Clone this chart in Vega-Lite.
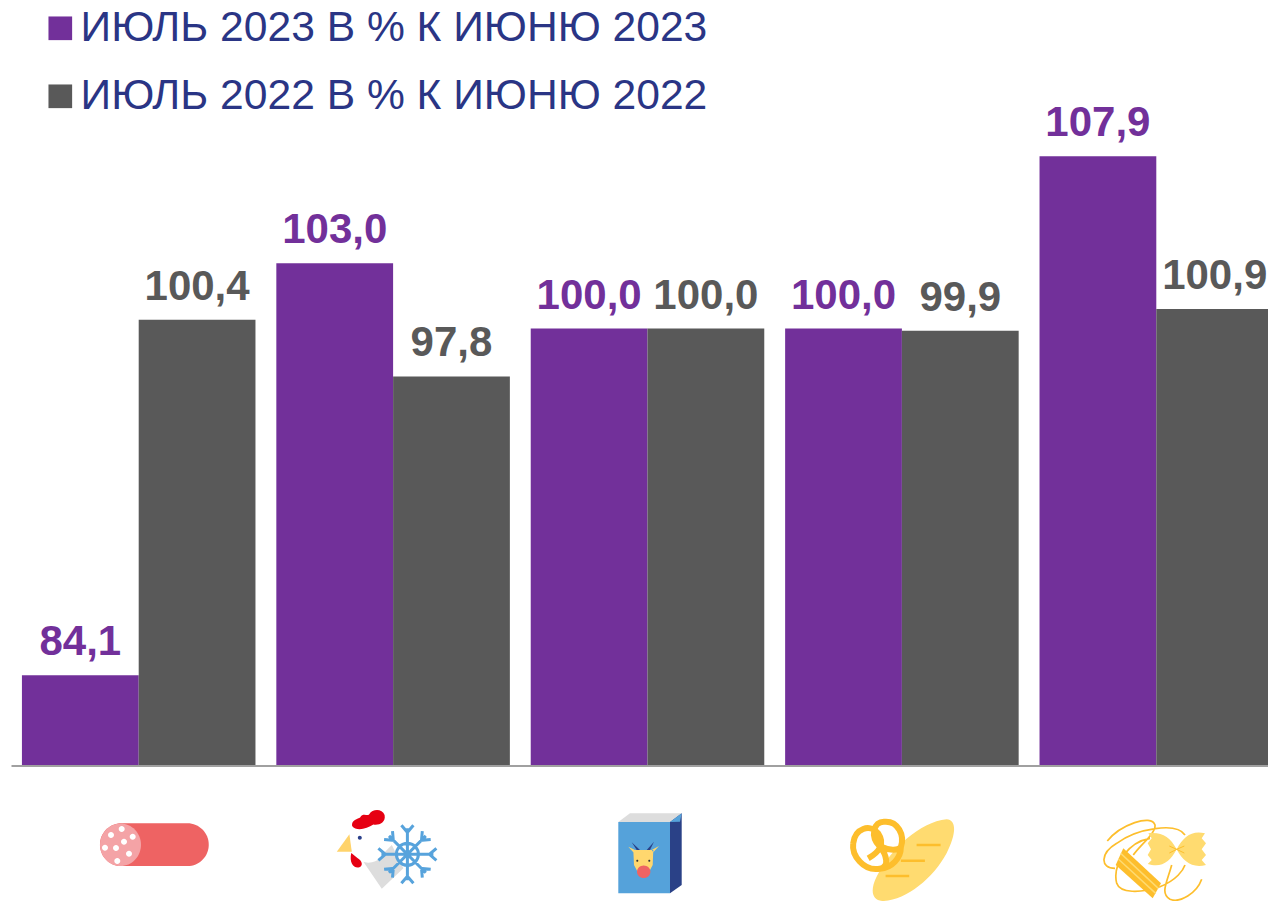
{
"$schema":"https://vega.github.io/schema/vega-lite/v6.json",
"width":1256.5,"height":901,
"autosize":{"type":"none"},
"padding":{"left":11.5,"top":0,"right":0,"bottom":0},
"background":"white",
"view":{"stroke":null},
"config":{"axis":{"domain":false,"ticks":false,"labels":false,"grid":false,"title":null}},
"layer":[
{"data":{"values":[
{"category":"Колбасные изделия","series":"ИЮЛЬ 2023 В % К ИЮНЮ 2023","value":84.1,"label":"84,1"},
{"category":"Колбасные изделия","series":"ИЮЛЬ 2022 В % К ИЮНЮ 2022","value":100.4,"label":"100,4"},
{"category":"Мясо птицы замороженное","series":"ИЮЛЬ 2023 В % К ИЮНЮ 2023","value":103.0,"label":"103,0"},
{"category":"Мясо птицы замороженное","series":"ИЮЛЬ 2022 В % К ИЮНЮ 2022","value":97.8,"label":"97,8"},
{"category":"Молоко","series":"ИЮЛЬ 2023 В % К ИЮНЮ 2023","value":100.0,"label":"100,0"},
{"category":"Молоко","series":"ИЮЛЬ 2022 В % К ИЮНЮ 2022","value":100.0,"label":"100,0"},
{"category":"Хлеб","series":"ИЮЛЬ 2023 В % К ИЮНЮ 2023","value":100.0,"label":"100,0"},
{"category":"Хлеб","series":"ИЮЛЬ 2022 В % К ИЮНЮ 2022","value":99.9,"label":"99,9"},
{"category":"Макароны","series":"ИЮЛЬ 2023 В % К ИЮНЮ 2023","value":107.9,"label":"107,9"},
{"category":"Макароны","series":"ИЮЛЬ 2022 В % К ИЮНЮ 2022","value":100.9,"label":"100,9"}
]},
"encoding":{
"x":{"field":"category","type":"nominal","axis":null,"sort":null,"scale":{"domain":["Колбасные изделия","Мясо птицы замороженное","Молоко","Хлеб","Макароны"],"range":[0,1272],"paddingInner":0.082,"paddingOuter":0.041}},
"xOffset":{"field":"series","type":"nominal","sort":["ИЮЛЬ 2023 В % К ИЮНЮ 2023","ИЮЛЬ 2022 В % К ИЮНЮ 2022"]},
"y":{"field":"value","type":"quantitative","axis":null,"scale":{"domain":[73.74,115.07],"zero":false,"nice":false}},
"color":{"field":"series","type":"nominal","scale":{"domain":["ИЮЛЬ 2023 В % К ИЮНЮ 2023","ИЮЛЬ 2022 В % К ИЮНЮ 2022"],"range":["#72309A","#595959"]},
"legend":{"title":null,"orient":"none","legendX":27.5,"legendY":7,"symbolType":"square","symbolSize":560,"symbolOpacity":1,"labelFont":"Liberation Sans","labelFontSize":42.6,"labelColor":"#2A3585","labelLimit":800,"rowPadding":25,"labelOffset":-1,"padding":0}}
},
"layer":[
{"mark":{"type":"bar"},"encoding":{"y2":{"datum":79.93}}},
{"mark":{"type":"text","font":"Liberation Sans","fontSize":42,"fontWeight":"bold","align":"center","baseline":"alphabetic","dy":-20},"encoding":{"text":{"field":"label","type":"nominal"}}}
]},
{"data":{"values":[{"baseline":79.93}]},"mark":{"type":"rule","color":"#A0A0A0","strokeWidth":2},"encoding":{"y":{"field":"baseline","type":"quantitative"}}},
{"data":{"values":[{"category":"Колбасные изделия"}]},"encoding":{"x":{"field":"category","type":"nominal","axis":null,"sort":null},"y":{"datum":76.078}},"layer":[
{"mark":{"type":"point","filled":true,"opacity":1,"size":4,"color":"#EE6363","shape":"M-17.4,-26.7 H48.7 A21.3,21.3 0 0 1 48.7,16 H-17.4 A21.3,21.3 0 0 1 -17.4,-26.7 Z"}},
{"mark":{"type":"point","filled":true,"opacity":1,"size":4,"color":"#F4A3A6","shape":"M-38.7,-5.3 A20.5,21.3 0 1 1 2.3,-5.3 A20.5,21.3 0 1 1 -38.7,-5.3 Z"}},
{"mark":{"type":"point","filled":true,"opacity":1,"size":4,"color":"#FFFFFF","shape":"M-30.7,-15 a3,3 0 1 0 6,0 a3,3 0 1 0 -6,0 Z M-20,-21 a3,3 0 1 0 6,0 a3,3 0 1 0 -6,0 Z M-9,-13.3 a3,3 0 1 0 6,0 a3,3 0 1 0 -6,0 Z M-17.7,-8.3 a3,3 0 1 0 6,0 a3,3 0 1 0 -6,0 Z M-36.7,-2.3 a3,3 0 1 0 6,0 a3,3 0 1 0 -6,0 Z M-25.7,-2 a3,3 0 1 0 6,0 a3,3 0 1 0 -6,0 Z M-12.7,3.7 a3,3 0 1 0 6,0 a3,3 0 1 0 -6,0 Z M-24.4,11 a3,3 0 1 0 6,0 a3,3 0 1 0 -6,0 Z"}}
]},
{"data":{"values":[{"category":"Мясо птицы замороженное"}]},"encoding":{"x":{"field":"category","type":"nominal","axis":null,"sort":null},"y":{"datum":76.078}},"layer":[
{"mark":{"type":"point","filled":true,"opacity":1,"size":4,"color":"#DDDDDD","shape":"M-29.7,11.7 L-11.3,38.7 L10.3,18.3 L-1.3,-5 L-13,6.7 Z"}},
{"mark":{"type":"point","filled":true,"opacity":1,"size":4,"color":"#FFFFFF","shape":"M-42.4,-5 A17.7,17.7 0 1 1 -7,-5 A17.7,17.7 0 1 1 -42.4,-5 Z"}},
{"mark":{"type":"point","filled":true,"opacity":1,"size":4,"color":"#E60012","shape":"M-41,-24 C-42,-30 -35,-31 -33,-32.5 C-30,-38 -25,-33 -23.7,-36 C-21,-41 -11,-42 -8.5,-35 C-7,-27 -14.7,-24.5 -19.7,-25.5 C-26.3,-21 -37,-18.5 -41,-24 Z M-41.8,3 C-44,12 -40,18 -34.7,17.5 C-29.5,16.5 -30.5,10.7 -35.7,8 Z"}},
{"mark":{"type":"point","filled":true,"opacity":1,"size":4,"color":"#FFD36B","shape":"M-56.3,1.7 L-43.7,-15.7 L-41.3,1.7 Z"}},
{"mark":{"type":"point","filled":true,"opacity":1,"size":4,"color":"#2A3F8A","shape":"M-35.3,-12.3 a2,2 0 1 0 4,0 a2,2 0 1 0 -4,0 Z"}},
{"mark":{"type":"point","filled":false,"opacity":1,"size":4,"stroke":"#57A3DC","strokeWidth":3,"shape":"M14.3,-21.7 L14.3,30.3 M-11.7,4.3 L40.3,4.3 M-4.1,-14.1 L32.7,22.7 M32.7,-14.1 L-4.1,22.7 M25.3,4.3 A11,11 0 1 0 3.3,4.3 A11,11 0 1 0 25.3,4.3 M8.3,-24.7 L14.3,-17.7 L20.3,-24.7 M8.3,33.3 L14.3,26.3 L20.3,33.3 M-14.7,-1.7 L-7.7,4.3 L-14.7,10.3 M43.3,-1.7 L36.3,4.3 L43.3,10.3 M29.2,-19 L28.4,-9.8 L37.6,-10.6 M29.2,27.6 L28.4,18.4 L37.6,19.2 M-0.6,27.6 L0.2,18.4 L-9,19.2 M-0.6,-19 L0.2,-9.8 L-9,-10.6"}}
]},
{"data":{"values":[{"category":"Молоко"}]},"encoding":{"x":{"field":"category","type":"nominal","axis":null,"sort":null},"y":{"datum":76.078}},"layer":[
{"mark":{"type":"point","filled":true,"opacity":1,"size":4,"color":"#DDDDDD","shape":"M-29.2,-28 L-17.5,-36.7 L34.2,-36.7 L22.5,-28 Z"}},
{"mark":{"type":"point","filled":true,"opacity":1,"size":4,"color":"#2A4187","shape":"M22.5,-28 L34.2,-36.7 L34.2,35 L22.5,43.3 Z"}},
{"mark":{"type":"point","filled":true,"opacity":1,"size":4,"color":"#55A2DA","shape":"M-29.2,-28 L22.5,-28 L22.5,43.3 L-29.2,43.3 Z M22.5,-28 L34.2,-36.7 L32.5,-28.3 Z"}},
{"mark":{"type":"point","filled":true,"opacity":1,"size":4,"color":"#2A4187","shape":"M-15.8,-7.7 L-7.5,0 L-10.8,0 Z M6.5,-8.3 L-0.8,0 L2.5,0 Z"}},
{"mark":{"type":"point","filled":true,"opacity":1,"size":4,"color":"#FFD76E","shape":"M-14.2,0 L5.8,0 L5.2,15 L0.8,23.3 L-9.2,23.3 L-13.5,15 Z M-19.2,-3.3 L-12.5,0 L-14.2,2.3 Z M11.5,-4 L4.2,0 L5.8,2.3 Z"}},
{"mark":{"type":"point","filled":true,"opacity":1,"size":4,"color":"#EE6363","shape":"M-10.5,21.7 A6.7,6.3 0 1 1 2.9,21.7 A6.7,6.3 0 1 1 -10.5,21.7 Z"}},
{"mark":{"type":"point","filled":true,"opacity":1,"size":4,"color":"#333333","shape":"M-11.2,10.7 a1,1 0 1 0 2,0 a1,1 0 1 0 -2,0 Z M0.8,10.7 a1,1 0 1 0 2,0 a1,1 0 1 0 -2,0 Z"}}
]},
{"data":{"values":[{"category":"Хлеб"}]},"encoding":{"x":{"field":"category","type":"nominal","axis":null,"sort":null},"y":{"datum":76.078}},"layer":[
{"mark":{"type":"point","filled":true,"opacity":1,"size":4,"color":"#FFDB70","shape":"M44.7,-30.7 C54.7,-30 54.7,-16.7 44.7,3.3 C31.3,28.3 4.7,50 -18.7,51 C-30.3,51 -32,40 -25.3,26.7 C-12,0 18,-28.3 44.7,-30.7 Z"}},
{"mark":{"type":"point","filled":false,"opacity":1,"size":4,"stroke":"#FDBE2C","strokeWidth":2.5,"shape":"M14.7,-5 L38.7,-5 M-1,10.7 L23,10.7 M-16.3,26 L7.3,26"}},
{"mark":{"type":"point","filled":false,"opacity":1,"size":4,"stroke":"#FDBE2C","strokeWidth":6,"shape":"M-20,-3 C-12,1 -3,0 -1,-3 C3,-15 -4,-29 -17,-28.3 C-28.7,-29.3 -32,-13.3 -22,-3.3 C-15.3,5 -12,16.7 -22,18.7 C-38.7,21.7 -50.3,5 -48.7,-6.7 C-47,-21.7 -32,-26.7 -23.7,-16.7 C-17,-6.7 -22,1.7 -33.7,8.3 M-1,-3 C-1,8 -10,18 -22,18.7"}}
]},
{"data":{"values":[{"category":"Макароны"}]},"encoding":{"x":{"field":"category","type":"nominal","axis":null,"sort":null},"y":{"datum":76.078}},"layer":[
{"mark":{"type":"point","filled":false,"opacity":1,"size":4,"stroke":"#FDBE2C","strokeWidth":1.7,"shape":"M-49,-9 C-36.3,-25 -4.6,-36.7 -1.3,-25 C-0.3,-16.7 -16.3,-5 -23,5 M-41.3,18.3 C-56.3,18.3 -56.3,3.3 -39.6,-6.7 C-19.6,-21.7 20.4,-28.3 28.7,-15 M-6.3,-11.7 C-26.3,-8.3 -44.6,13.3 -39.6,33.3 C-36.3,43.3 -16.3,43.3 3.7,36.7 C20.4,30 27,20 28.7,15 M15.4,15 C10.4,33.3 3.7,43.3 13.7,49.3 C23.7,53.3 40.4,43.3 45.4,29.3"}},
{"mark":{"type":"point","filled":true,"opacity":1,"size":4,"color":"#FDBE2C","shape":"M-33,-1.7 L4.7,33.3 L-3.6,48.3 L-40.6,15 Z"}},
{"mark":{"type":"point","filled":false,"opacity":1,"size":4,"stroke":"#FFDB70","strokeWidth":1.5,"shape":"M-35.6,3.3 L2,38.3 M-38,9 L-0.6,43.3"}},
{"mark":{"type":"point","filled":true,"opacity":1,"size":4,"color":"#FFDB70","shape":"M20.4,-0.7 C13.7,-13.3 5.4,-18.3 -8,-16.7 L-4.6,-11.7 L-8.6,-6.7 L-5.3,-0.7 L-8.6,5 L-4.6,10 L-8.6,14 C5.4,18.3 13.7,11.7 20.4,-0.7 C27,-13.3 35.4,-20 48.7,-16.7 L45.4,-11.7 L49.7,-6.7 L45.4,-0.7 L49.7,5 L45.4,10 L49.7,15 C35.4,18.3 27,11.7 20.4,-0.7 Z"}},
{"mark":{"type":"point","filled":false,"opacity":1,"size":4,"stroke":"#FDBE2C","strokeWidth":1,"shape":"M13,-4 L20.4,-0.7 L28,-4 M13,3 L20.4,-0.7 L28,3"}}
]}
]
}
